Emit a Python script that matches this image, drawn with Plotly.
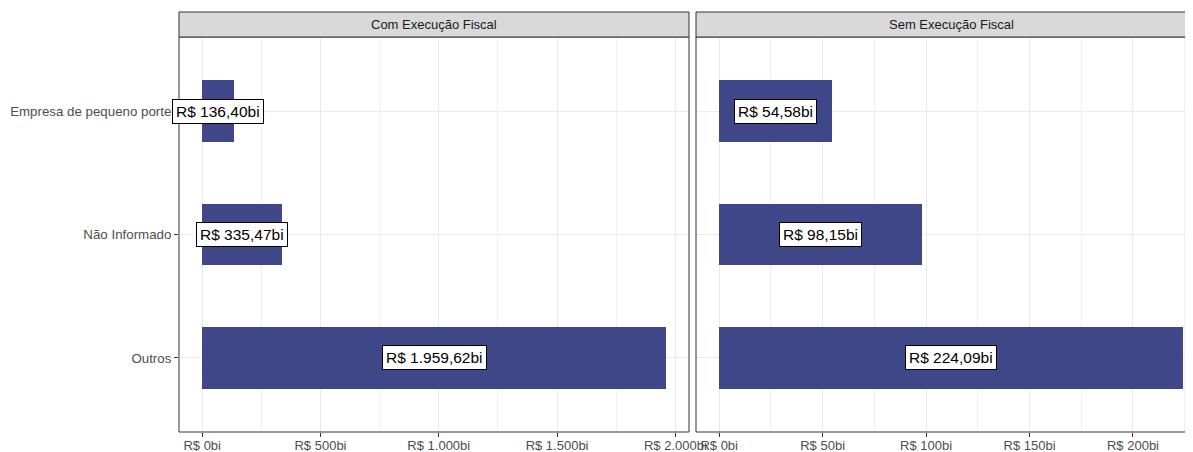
import plotly.graph_objects as go

# ── Dados ────────────────────────────────────────────────────────────────────
categorias = ["Empresa de pequeno porte", "Não Informado", "Outros"]
paineis = ["Com Execução Fiscal", "Sem Execução Fiscal"]
valores_com = [136.40, 335.47, 1959.62]
valores_sem = [54.58, 98.15, 224.09]
ticks_com = [0, 500, 1000, 1500, 2000]
ticks_sem = [0, 50, 100, 150, 200]

COR_BARRA = "#404788"
COR_BORDA = "#333333"
COR_GRADE = "#ebebeb"
FONTE = "Liberation Sans, Arial, sans-serif"

# a página tem margem de 8px no body; a figura ocupa o resto da janela
OFF = 8
W, H = 1193 - OFF, 452 - OFF


def brl(v, casas=2):
    s = f"{v:,.{casas}f}".replace(",", "X").replace(".", ",").replace("X", ".")
    return f"R$ {s}bi"


# ── Layout em pixels de tela (estilo ggplot theme_bw + facet_wrap) ───────────
painel_top, painel_bot = 37, 432
strip_top = 12
esq = (179, 689)
dir_ = (696, 1206)  # painel direito passa da borda da imagem


def px(v):
    return (v - OFF) / W


def py(v):
    return 1 - (v - OFF) / H


fig = go.Figure()

for i, vals in enumerate([valores_com, valores_sem]):
    xa = "x" if i == 0 else "x2"
    fig.add_trace(
        go.Bar(
            x=vals,
            y=categorias,
            orientation="h",
            width=0.5,
            marker=dict(color=COR_BARRA, line=dict(width=0)),
            showlegend=False,
            hoverinfo="skip",
            xaxis=xa,
            yaxis="y",
        )
    )
    for c, v in zip(categorias, vals):
        fig.add_annotation(
            x=v / 2,
            y=c,
            xref=xa,
            yref="y",
            text=brl(v),
            showarrow=False,
            font=dict(family=FONTE, size=15.5, color="black"),
            bgcolor="white",
            bordercolor="black",
            borderwidth=1,
            borderpad=3,
        )

# faixas de eixos com expansão de 5%
lo_c, hi_c = -0.05 * max(valores_com), 1.05 * max(valores_com)
lo_s, hi_s = -0.05 * max(valores_sem), 1.05 * max(valores_sem)
vis = (1193 - dir_[0]) / (dir_[1] - dir_[0])
hi_s_vis = lo_s + (hi_s - lo_s) * vis

eixo_x = dict(
    showgrid=True,
    gridcolor=COR_GRADE,
    gridwidth=1,
    zeroline=False,
    ticks="outside",
    ticklen=4,
    tickcolor=COR_BORDA,
    tickfont=dict(family=FONTE, size=13, color="#4d4d4d"),
    ticklabelstandoff=-3,
    showline=False,
    anchor="y",
    automargin=False,
    fixedrange=True,
)

fig.update_layout(
    width=W,
    height=H,
    margin=dict(l=0, r=0, t=0, b=0, pad=0),
    paper_bgcolor="white",
    plot_bgcolor="white",
    bargap=0,
    xaxis=dict(
        eixo_x,
        domain=[px(esq[0]), px(esq[1])],
        range=[lo_c, hi_c],
        tickvals=ticks_com,
        ticktext=[brl(t, 0) for t in ticks_com],
        minor=dict(dtick=250, tick0=0, showgrid=True, gridcolor="#f0f0f0", gridwidth=1, ticks=""),
    ),
    xaxis2=dict(
        eixo_x,
        domain=[px(dir_[0]), 1],
        range=[lo_s, hi_s_vis],
        tickvals=ticks_sem,
        ticktext=[brl(t, 0) for t in ticks_sem],
        minor=dict(dtick=25, tick0=0, showgrid=True, gridcolor="#f0f0f0", gridwidth=1, ticks=""),
    ),
    yaxis=dict(
        domain=[py(painel_bot), py(painel_top)],
        type="category",
        categoryorder="array",
        categoryarray=categorias[::-1],
        range=[-0.6, 2.6],
        showgrid=True,
        gridcolor=COR_GRADE,
        zeroline=False,
        ticks="outside",
        ticklen=4,
        tickcolor=COR_BORDA,
        tickfont=dict(family=FONTE, size=13.3, color="#4d4d4d"),
        anchor="x",
        automargin=False,
        fixedrange=True,
    ),
)

# bordas dos painéis e faixas (strips)
for (x0, x1), titulo in zip([esq, dir_], paineis):
    fig.add_shape(
        type="rect", xref="paper", yref="paper",
        x0=px(x0), x1=px(x1), y0=py(painel_bot), y1=py(painel_top),
        line=dict(color=COR_BORDA, width=1), fillcolor="rgba(0,0,0,0)", layer="above",
    )
    fig.add_shape(
        type="rect", xref="paper", yref="paper",
        x0=px(x0), x1=px(x1), y0=py(painel_top), y1=py(strip_top),
        line=dict(color=COR_BORDA, width=1), fillcolor="#d9d9d9", layer="above",
    )
    fig.add_annotation(
        x=px((x0 + x1) / 2),
        y=py((painel_top + strip_top) / 2),
        xref="paper", yref="paper", xanchor="center", yanchor="middle",
        text=titulo, showarrow=False,
        font=dict(family=FONTE, size=13, color="#1a1a1a"),
    )

fig.write_html("out.html")
